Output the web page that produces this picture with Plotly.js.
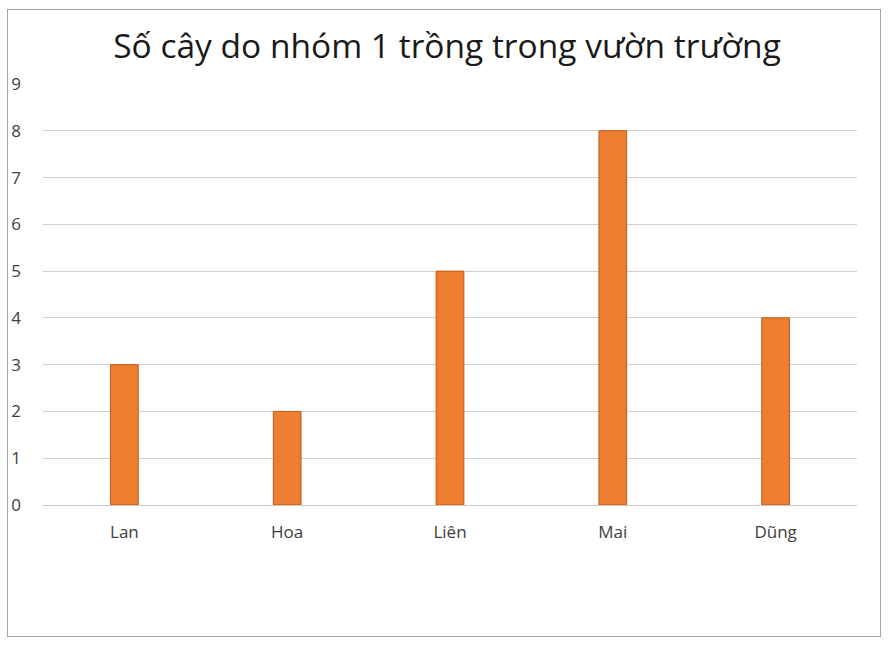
<!DOCTYPE html>
<html>
<head>
<meta charset="utf-8">
<script src="https://cdn.plot.ly/plotly-3.0.1.min.js"></script>
<style>
  html, body { margin: 0; padding: 0; background: #fff; }
  #wrap { position: relative; width: 894px; height: 646px; }
  #chart { position: absolute; left: 0; top: 0; width: 894px; height: 646px; }
  #frame { position: absolute; left: 7px; top: 9px; width: 872px; height: 626px;
           border: 1px solid #a6a6a6; pointer-events: none; }
</style>
</head>
<body>
<div id="wrap">
  <div id="chart"></div>
  <div id="frame"></div>
</div>
<script>
    // data
    var names = ['Lan', 'Hoa', 'Liên', 'Mai', 'Dũng'];
    var trees = [3, 2, 5, 8, 4];
    var yticks = [0, 1, 2, 3, 4, 5, 6, 7, 8, 9];

    var data = [{
        x: names,
        y: trees,
        type: 'bar',
        marker: {color: '#ED7D31', line: {color: '#C55A11', width: 1}},
        hoverinfo: 'x+y'
    }];

    var layout = {
        width: 894,
        height: 646,
        margin: {l: 43, r: 37, t: 84, b: 141},
        paper_bgcolor: 'rgba(0,0,0,0)',
        plot_bgcolor: '#fff',
        title: {
            text: 'Số cây do nhóm 1 trồng trong vườn trường',
            font: {family: 'Open Sans, sans-serif', size: 33.5, color: '#1a1a1a'},
            x: 0.5, xanchor: 'center',
            y: 0.928, yanchor: 'middle', yref: 'container'
        },
        bargap: 0.83,
        showlegend: false,
        xaxis: {
            showgrid: false,
            showline: false,
            zeroline: false,
            ticks: '',
            ticklabelstandoff: 15,
            tickfont: {family: 'Open Sans, sans-serif', size: 17, color: '#404040'}
        },
        yaxis: {
            range: [0, 9],
            tickvals: yticks,
            showgrid: true,
            gridcolor: '#d0d0d0',
            gridwidth: 1,
            zeroline: true,
            zerolinecolor: '#c8c8c8',
            zerolinewidth: 1,
            showline: false,
            ticks: '',
            ticklabelstandoff: 21,
            tickfont: {family: 'Open Sans, sans-serif', size: 17, color: '#404040'}
        }
    };

    Plotly.newPlot('chart', data, layout, {responsive: false, displayModeBar: false});
</script>
</body>
</html>
